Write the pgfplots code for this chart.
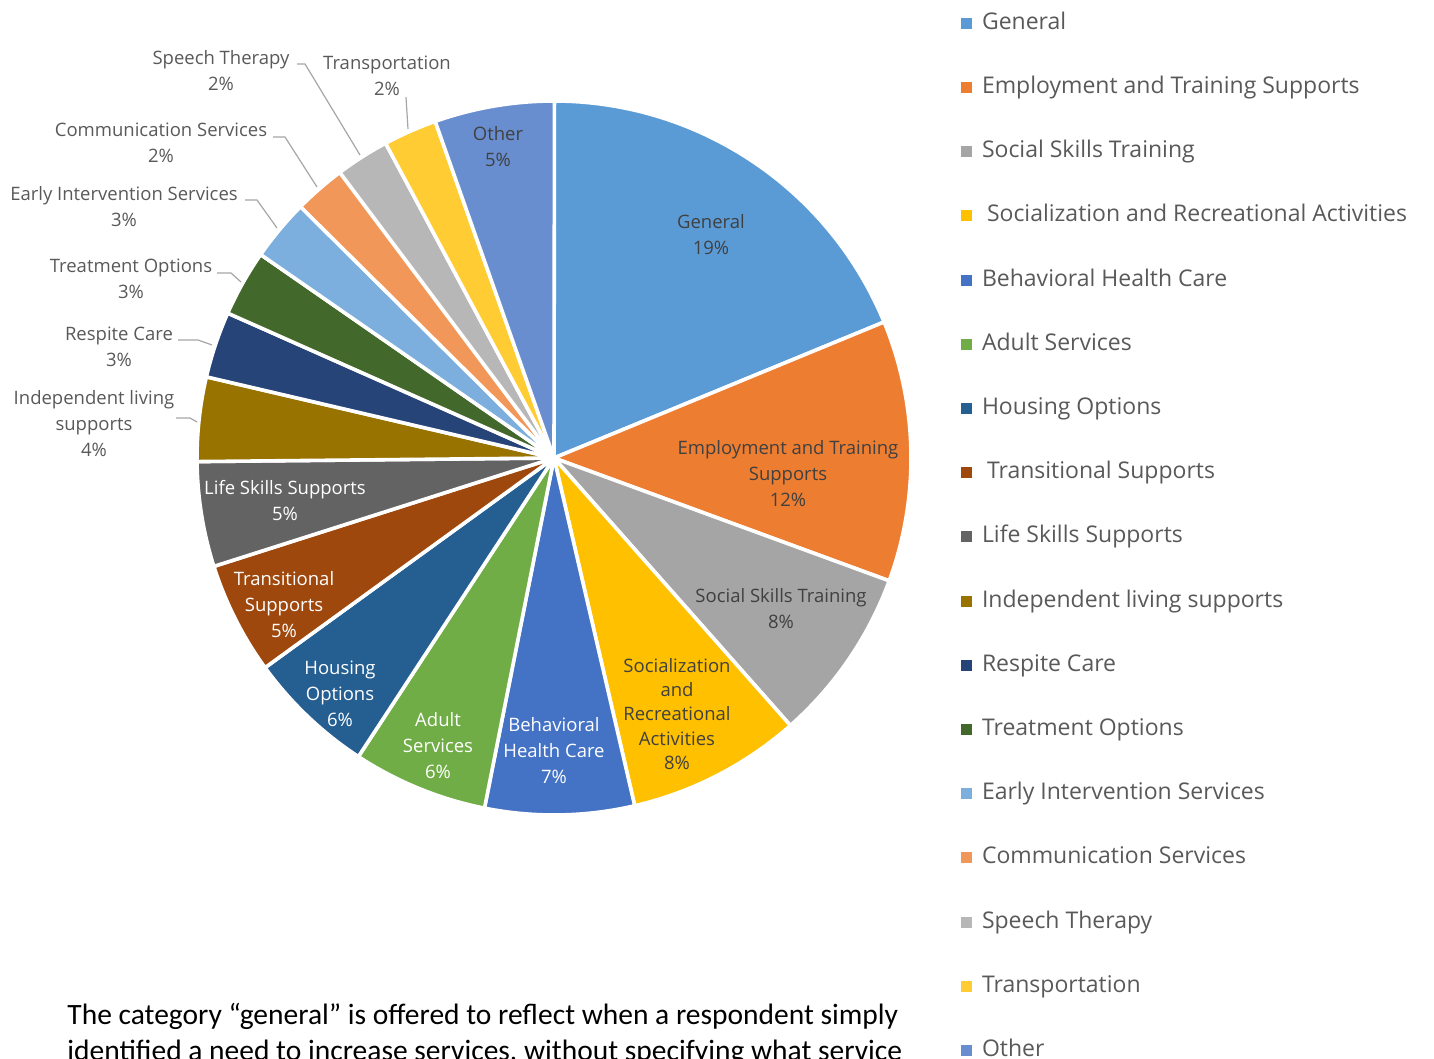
\documentclass[border=0pt]{standalone}
\usepackage{fontspec}
\setmainfont{Open Sans}
\newfontfamily\bodyfont{Carlito}
\usepackage{pgfplots}
\usepackage{pgfplotstable}
\pgfplotsset{compat=1.18}

% slice colours, in the order of the table below
\definecolor{pie0}{HTML}{5B9BD5}
\definecolor{pie1}{HTML}{ED7D31}
\definecolor{pie2}{HTML}{A5A5A5}
\definecolor{pie3}{HTML}{FFC000}
\definecolor{pie4}{HTML}{4472C4}
\definecolor{pie5}{HTML}{70AD47}
\definecolor{pie6}{HTML}{255E91}
\definecolor{pie7}{HTML}{9E480E}
\definecolor{pie8}{HTML}{636363}
\definecolor{pie9}{HTML}{997300}
\definecolor{pie10}{HTML}{264478}
\definecolor{pie11}{HTML}{43682B}
\definecolor{pie12}{HTML}{7CAFDD}
\definecolor{pie13}{HTML}{F1975A}
\definecolor{pie14}{HTML}{B7B7B7}
\definecolor{pie15}{HTML}{FFCD33}
\definecolor{pie16}{HTML}{698ED0}
\definecolor{darklab}{HTML}{404040}
\definecolor{outlab}{HTML}{595959}
\definecolor{leadgray}{HTML}{A6A6A6}

\pgfplotstableread[col sep=comma]{
name,value
General,18.78
Employment and Training Supports,11.81
Social Skills Training,7.89
Socialization and Recreational Activities,7.89
Behavioral Health Care,6.75
Adult Services,6.11
Housing Options,5.78
Transitional Supports,5.08
Life Skills Supports,4.75
Independent living supports,3.81
Respite Care,3.00
Treatment Options,3.00
Early Intervention Services,2.78
Communication Services,2.33
Speech Therapy,2.42
Transportation,2.42
Other,5.42
}\piedata

% start/end angle of every slice, clockwise from 12 o'clock
\gdef\cum{90}
\foreach \i in {0,...,16}{%
  \pgfplotstablegetelem{\i}{value}\of\piedata
  \pgfmathsetmacro{\endang}{\cum-3.6*\pgfplotsretval}%
  \expandafter\xdef\csname wa\i\endcsname{\cum}%
  \expandafter\xdef\csname wb\i\endcsname{\endang}%
  \xdef\cum{\endang}%
}

\def\R{178.5pt}
\tikzset{
  lab/.style={align=center, font=\fontsize{9.25}{13}\selectfont, inner sep=0pt},
  lead/.style={leadgray, line width=0.6pt},
  note/.style={anchor=base west, inner sep=0pt, font=\bodyfont\fontsize{14.75}{18}\selectfont},
}

\begin{document}
\begin{tikzpicture}
\begin{axis}[
  scale only axis, width=717pt, height=529.5pt,
  xmin=0, xmax=1434, ymin=0, ymax=1059, y dir=reverse,
  hide axis, clip=false,
  legend image code/.code={\fill[#1, draw=none] (0pt,-2.75pt) rectangle (5.5pt,2.75pt);},
  legend cell align=left,
  legend style={at={(axis cs:961,12.3)}, anchor=north west, draw=none, fill=none,
    inner sep=0pt, outer sep=0pt, row sep=21.1pt, column sep=5pt,
    font=\fontsize{11.5}{13}\selectfont, text=outlab,
    nodes={inner sep=0pt, text height=8.5pt, text depth=2.5pt}},
]
\pgfplotsinvokeforeach{0,...,16}{
  \fill[fill=pie#1, draw=white, line width=1.8pt, line join=round]
    (axis cs:554,458) -- ++(\csname wa#1\endcsname:\R)
    arc[start angle=\csname wa#1\endcsname, end angle=\csname wb#1\endcsname, radius=\R] -- cycle;
  \addlegendimage{fill=pie#1}
}
\legend{General, Employment and Training Supports, Social Skills Training,
  \hspace{2.5pt}Socialization and Recreational Activities, Behavioral Health Care,
  Adult Services, Housing Options, \hspace{2.5pt}Transitional Supports, Life Skills Supports,
  Independent living supports, Respite Care, Treatment Options,
  Early Intervention Services, Communication Services, Speech Therapy,
  Transportation, Other}

% labels inside the slices
\node[lab, text=darklab] at (axis cs:711,235) {General\\19\%};
\node[lab, text=darklab] at (axis cs:788,474) {Employment and Training\\Supports\\12\%};
\node[lab, text=darklab] at (axis cs:781,609) {Social Skills Training\\8\%};
\node[lab, text=darklab, font=\fontsize{9.25}{12.1}\selectfont] at (axis cs:677,714) {Socialization\\and\\Recreational\\Activities\\8\%};
\node[lab, text=white] at (axis cs:554,751) {Behavioral\\Health Care\\7\%};
\node[lab, text=white] at (axis cs:438,746) {Adult\\Services\\6\%};
\node[lab, text=white] at (axis cs:340,694) {Housing\\Options\\6\%};
\node[lab, text=white] at (axis cs:284,605) {Transitional\\Supports\\5\%};
\node[lab, text=white] at (axis cs:285,501) {Life Skills Supports\\5\%};
\node[lab, text=darklab] at (axis cs:498,147) {Other\\5\%};

% labels outside, with leader lines
\node[lab, text=outlab] at (axis cs:94,424) {Independent living\\supports\\4\%};
\node[lab, text=outlab] at (axis cs:119,347) {Respite Care\\3\%};
\node[lab, text=outlab] at (axis cs:131,279) {Treatment Options\\3\%};
\node[lab, text=outlab] at (axis cs:124,207) {Early Intervention Services\\3\%};
\node[lab, text=outlab] at (axis cs:161,143) {Communication Services\\2\%};
\node[lab, text=outlab] at (axis cs:221,71) {Speech Therapy\\2\%};
\node[lab, text=outlab] at (axis cs:387,76) {Transportation\\2\%};
\draw[lead] (axis cs:176,418) -- (axis cs:190,418) -- (axis cs:197,422);
\draw[lead] (axis cs:178,340) -- (axis cs:198,340) -- (axis cs:212,345);
\draw[lead] (axis cs:217,273) -- (axis cs:231,273) -- (axis cs:241,282);
\draw[lead] (axis cs:245,200) -- (axis cs:257,200) -- (axis cs:277,228);
\draw[lead] (axis cs:273,137) -- (axis cs:285,137) -- (axis cs:317,187);
\draw[lead] (axis cs:297,64) -- (axis cs:305,64) -- (axis cs:360,155);
\draw[lead] (axis cs:406,97) -- (axis cs:408,129);

% note under the chart (its second line runs off the bottom edge, as in the original)
\node[note] at (axis cs:67,1024)
  {The category “general” is offered to reflect when a respondent simply};
\node[note] at (axis cs:67,1060)
  {identified a need to increase services, without specifying what service};
\end{axis}
\pgfresetboundingbox
\path[use as bounding box] (current axis.south west) rectangle (current axis.north east);
\end{tikzpicture}
\end{document}
